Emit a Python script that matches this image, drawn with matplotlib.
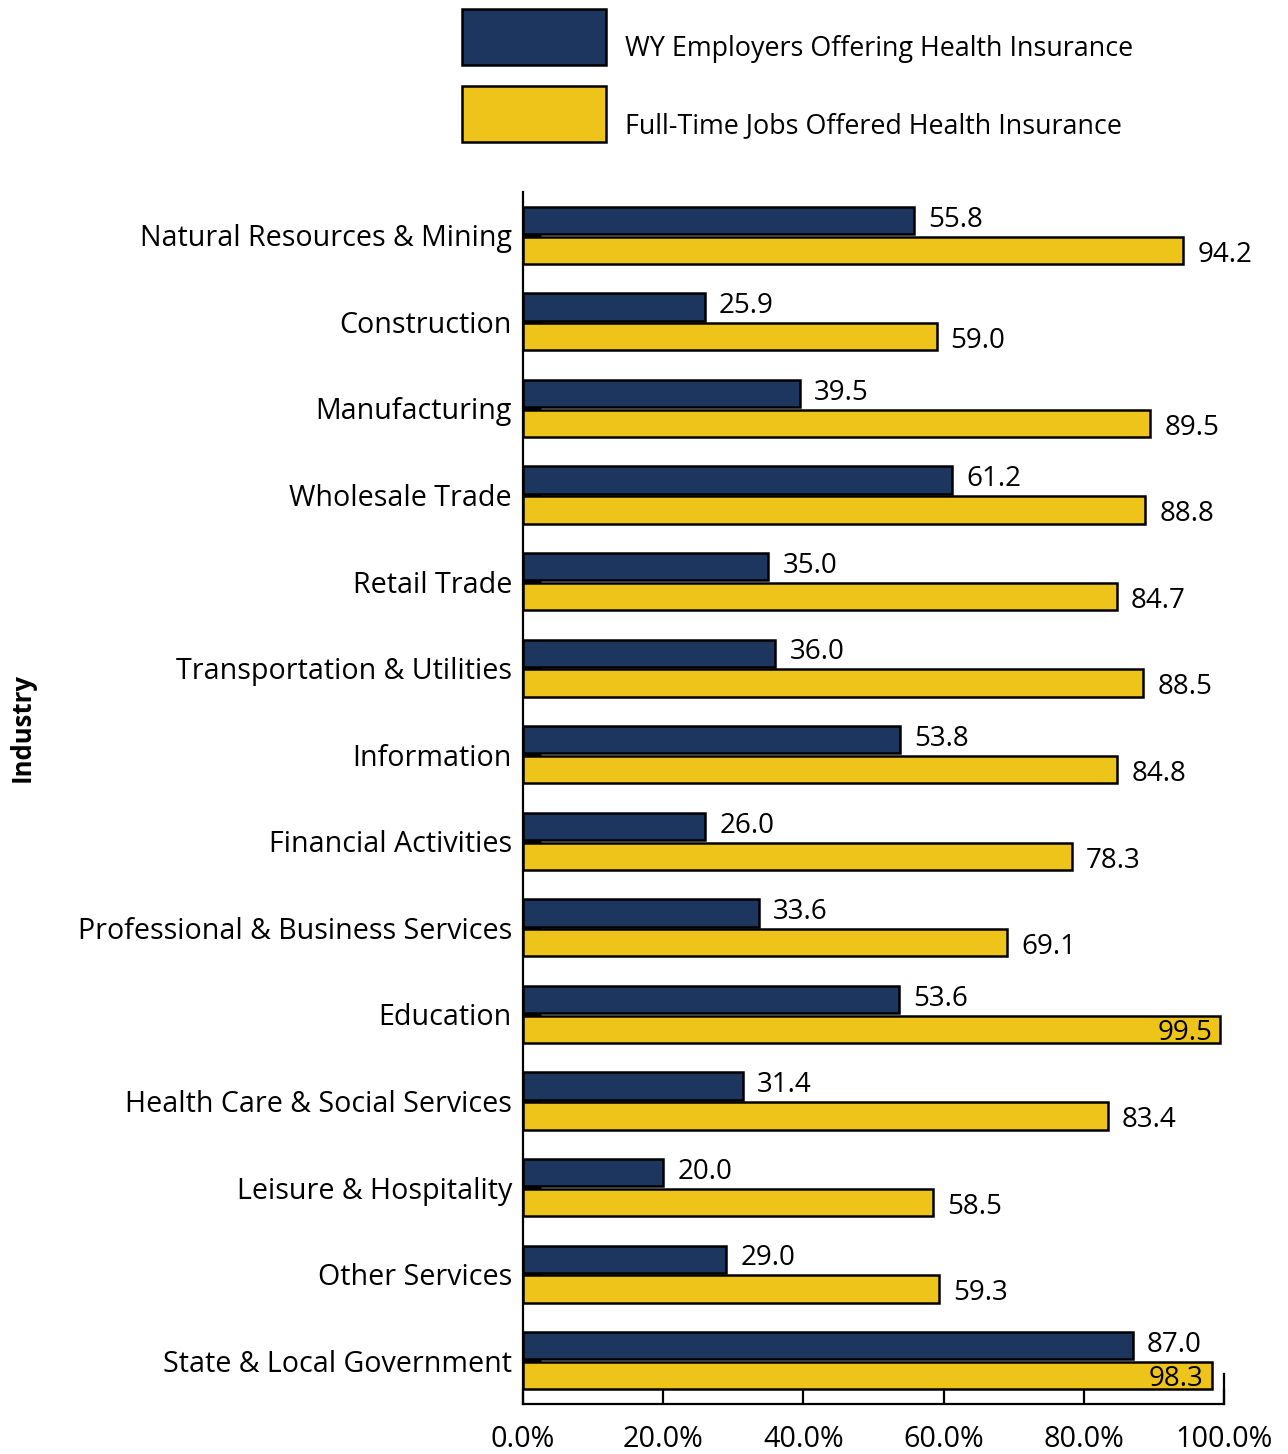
import matplotlib
matplotlib.use("Agg")
import matplotlib.pyplot as plt
from matplotlib.patches import Rectangle
import numpy as np

categories = ["Natural Resources & Mining", "Construction", "Manufacturing", "Wholesale Trade",
              "Retail Trade", "Transportation & Utilities", "Information", "Financial Activities",
              "Professional & Business Services", "Education", "Health Care & Social Services",
              "Leisure & Hospitality", "Other Services", "State & Local Government"]
employers = [55.8, 25.9, 39.5, 61.2, 35.0, 36.0, 53.8, 26.0, 33.6, 53.6, 31.4, 20.0, 29.0, 87.0]
fulltime = [94.2, 59.0, 89.5, 88.8, 84.7, 88.5, 84.8, 78.3, 69.1, 99.5, 83.4, 58.5, 59.3, 98.3]
series_names = ["WY Employers Offering Health Insurance", "Full-Time Jobs Offered Health Insurance"]
xticks = [0, 20, 40, 60, 80, 100]

NAVY = "#1D3660"
GOLD = "#EEC41B"
FONT = "Open Sans"
FS_CAT = 20.6
FS_VAL = 20.0
FS_TICK = 20.7
FS_LEG = 19.4

plt.rcParams['font.family'] = [FONT, 'DejaVu Sans']

W, H = 1288, 1454
fig = plt.figure(figsize=(W / 100, H / 100), dpi=100)
ax = fig.add_axes([523 / W, 1 - 1404 / H, 701 / W, 1212 / H])

y = np.arange(len(categories))
bh = 0.315
off = 0.172
ax.barh(y - off, employers, height=bh, color=NAVY, edgecolor="black", linewidth=1.8, zorder=3)
ax.barh(y + off, fulltime, height=bh, color=GOLD, edgecolor="black", linewidth=1.8, zorder=3)

for i, (e, f) in enumerate(zip(employers, fulltime)):
    ax.text(e + 2.0, i - off - 0.01, f"{e:.1f}", va="center", ha="left", fontsize=FS_VAL, color="black", zorder=4)
    if f > 97:
        ax.text(f - 1.2, i + off + 0.04, f"{f:.1f}", va="center", ha="right", fontsize=FS_VAL, color="black", zorder=4)
    else:
        ax.text(f + 2.0, i + off + 0.05, f"{f:.1f}", va="center", ha="left", fontsize=FS_VAL, color="black", zorder=4)

ax.set_xlim(0, 100)
ax.set_ylim(len(categories) - 0.5, -0.5)
ax.set_yticks(y)
ax.set_yticklabels(categories, fontsize=FS_CAT)
ax.set_xticks(xticks)
ax.set_xticklabels([f"{v:.1f}%" for v in xticks], fontsize=FS_TICK)
ax.tick_params(axis="y", direction="in", length=13, width=2.5, pad=8)
ax.tick_params(axis="x", direction="in", length=11, width=1.6, pad=15)
for s in ["top", "right"]:
    ax.spines[s].set_visible(False)
for s in ["left", "bottom"]:
    ax.spines[s].set_linewidth(1.6)
ax.axvline(100, ymin=0, ymax=30 / 1212, color="black", linewidth=1.6, clip_on=False)

fig.text(22 / W, 1 - 727 / H, "Industry", rotation=90, fontsize=18.5, fontweight="bold",
         ha="center", va="center")

# legend
for k, (name, col) in enumerate(zip(series_names, [NAVY, GOLD])):
    top = [9, 86][k]
    fig.add_artist(Rectangle((462 / W, 1 - (top + 56) / H), 144 / W, 56 / H,
                             transform=fig.transFigure, facecolor=col, edgecolor="black", linewidth=1.8))
    fig.text(625 / W, 1 - (top + 40) / H, name, fontsize=FS_LEG, ha="left", va="center")

fig.savefig("out.png", dpi=100)
